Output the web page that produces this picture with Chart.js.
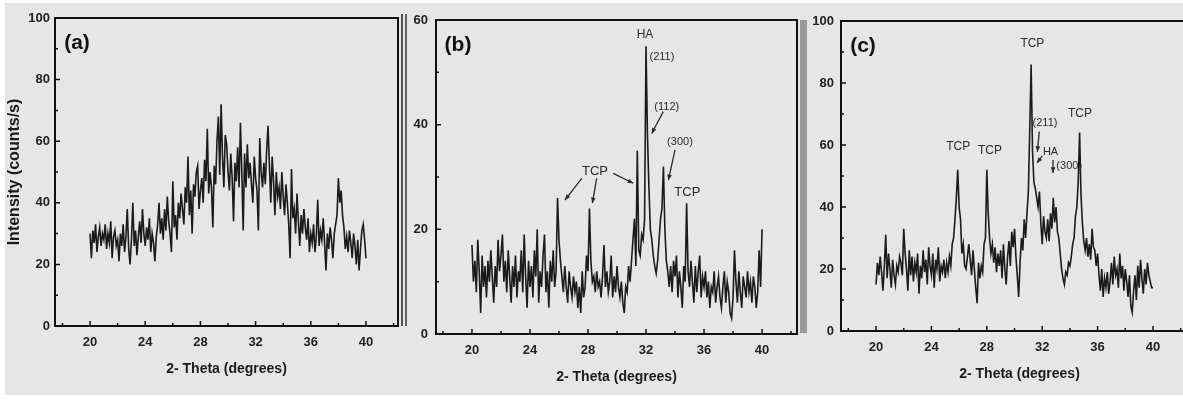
<!DOCTYPE html>
<html>
<head>
<meta charset="utf-8">
<script src="https://cdn.jsdelivr.net/npm/chart.js@4/dist/chart.umd.min.js"></script>
<style>
html, body { margin: 0; padding: 0; background: #fff; overflow: hidden; width: 1183px; height: 402px; }
#bg { position: absolute; left: 5px; top: 3px; width: 1178px; height: 392px; background: #e6e6e6; }
canvas { position: absolute; top: 0; }
.rule { position: absolute; }
</style>
</head>
<body>
<div id="bg"></div>
<div class="rule" style="left:401px;top:14px;width:2px;height:312px;background:#555"></div>
<div class="rule" style="left:405px;top:14px;width:2px;height:312px;background:#666"></div>
<div class="rule" style="left:800px;top:20px;width:7px;height:313px;background:#9a9a9a"></div>
<canvas id="chartA" width="400" height="402" style="left:0"></canvas>
<canvas id="chartB" width="400" height="402" style="left:400px"></canvas>
<canvas id="chartC" width="400" height="402" style="left:800px"></canvas>
<script>
// 2-theta sampling: 20.0 .. 40.0 every 0.1 degree
const thetaStart = 20;
const thetaStep = 0.1;

// (a) amorphous hump
const intensityA = [
  30, 22, 31, 27, 33, 24, 29, 32, 26, 30,
  28, 33, 25, 30, 27, 34, 22, 29, 31, 26,
  28, 21, 30, 26, 33, 24, 29, 38, 25, 20,
  28, 40, 26, 31, 23, 29, 34, 27, 38, 30,
  26, 32, 28, 35, 24, 30, 27, 21, 29, 33,
  40, 30, 35, 28, 38, 31, 42, 34, 30, 24,
  47, 32, 36, 28, 40, 35, 43, 38, 33, 45,
  40, 55, 36, 44, 30, 46, 42, 50, 52, 38,
  44, 48, 40, 54, 47, 64, 43, 50, 45, 32,
  52, 46, 60, 68, 49, 72, 55, 45, 62, 59,
  50, 44, 56, 48, 34, 53, 47, 58, 45, 66,
  50, 31, 56, 45, 59, 48, 53, 46, 40, 55,
  48, 44, 31, 61, 50, 45, 53, 46, 57, 65,
  52, 40, 55, 47, 36, 50, 42, 45, 38, 50,
  42, 36, 46, 40, 33, 22, 51, 35, 38, 30,
  43, 34, 26, 36, 30, 38, 32, 28, 35, 24,
  30, 27, 33, 24, 29, 41, 26, 31, 28, 35,
  27, 18, 30, 25, 32, 28, 22, 30, 33, 36,
  48, 40, 44, 36, 32, 25, 29, 24, 31, 27,
  22, 30, 26, 20, 28, 18, 25, 31, 33, 28,
  22
];

// (b) HA + TCP peaks
const intensityB = [
  17, 10, 14, 8, 18, 12, 4, 15, 9, 13,
  7, 14, 10, 16, 11, 6, 13, 9, 18, 12,
  15, 19, 10, 14, 8, 16, 11, 6, 13, 9,
  15, 7, 12, 10, 16, 8, 19, 11, 5, 14,
  9, 13, 7, 16, 11, 20, 6, 12, 9, 15,
  19, 8, 12, 5, 14, 10, 16, 9, 12, 26,
  18, 14, 11, 8, 13, 9, 6, 12, 9, 7,
  11, 8, 10, 5, 9, 4, 12, 7, 9, 15,
  12, 24, 14, 10, 11, 8, 12, 9, 10, 7,
  11, 17, 9, 12, 8, 10, 15, 7, 11, 8,
  13, 9, 7, 10, 6, 4, 9, 8, 13, 10,
  14, 18, 22, 13, 35, 16, 15, 19, 18, 22,
  55, 38, 28, 20, 18, 15, 13, 11.6, 14, 18,
  22, 24, 32, 20, 14, 12, 9, 13, 8, 14,
  11, 15, 7, 12, 9, 5, 13, 10, 25, 12,
  9, 14, 10, 6, 13, 8, 12, 15, 7, 11,
  9, 12, 7, 10, 5, 9, 8, 12, 6, 9,
  11, 7, 5, 9, 12, 6, 10, 8, 4, 3,
  7, 16, 10, 6, 12, 8, 5, 11, 9, 7,
  12, 8, 10, 6, 11, 9, 5, 8, 16, 9,
  20
];

// (c) TCP dominated
const intensityC = [
  15, 22, 18, 24, 19, 13, 21, 31, 17, 25,
  20, 14, 23, 18, 15, 21, 19, 24, 22, 18,
  33, 25, 20, 13, 26, 18, 24, 16, 22, 19,
  25, 12, 21, 17, 26, 19, 23, 15, 27, 21,
  18, 25, 14, 23, 20, 27, 16, 21, 19, 23,
  17, 22, 19, 24, 21, 28, 30, 36, 43, 52,
  40, 36, 25, 28, 21, 20, 24, 28, 23, 18,
  26, 20, 14, 9, 22, 17, 21, 19, 28, 30,
  52, 38, 30, 25, 28, 22, 27, 19, 25, 21,
  26, 17, 28, 20, 15, 24, 29, 21, 32, 27,
  33, 24, 18, 11, 22, 30, 26, 36, 30, 38,
  45, 65, 86, 58, 48, 46, 43, 40, 45, 35,
  28, 37, 32, 30, 36, 29, 38, 33, 43, 35,
  40, 32, 30, 25, 20, 17, 15, 19, 18, 22,
  21, 24, 28, 30, 37, 40, 48, 64, 44, 35,
  29, 26, 30, 24, 28, 23, 33, 27, 26, 21,
  25, 18, 13, 20, 11, 17, 14, 19, 12, 16,
  22, 15, 24, 18, 20, 14, 25, 17, 21, 13,
  20, 16, 11, 18, 8, 6, 13, 18, 10, 21,
  14, 23, 17, 12, 20, 15, 22, 18, 16, 14,
  14
];

const xTickLabels = [20, 24, 28, 32, 36, 40];
const xMinorTicks = [18, 20, 22, 24, 26, 28, 30, 32, 34, 36, 38, 40, 42];
const yTicks100 = [0, 20, 40, 60, 80, 100];
const yTicks60 = [0, 20, 40, 60];

// peak labels: text at (2-theta, intensity)
const notesB = [
  { text: 'HA', x: 31.93, y: 57.1, size: 12 },
  { text: '(211)', x: 33.1, y: 52.9, size: 11 },
  { text: '(112)', x: 33.43, y: 43.4, size: 11 },
  { text: '(300)', x: 34.34, y: 36.6, size: 11 },
  { text: 'TCP', x: 28.48, y: 31.0, size: 13 },
  { text: 'TCP', x: 34.85, y: 27.1, size: 13 }
];
const arrowsB = [
  [33.19, 42.5, 32.39, 38.3],
  [34.0, 35.2, 33.54, 29.4],
  [27.57, 29.75, 26.41, 25.6],
  [28.6, 29.75, 28.3, 25.0],
  [29.74, 30.7, 31.12, 28.8]
];
const notesC = [
  { text: 'TCP', x: 31.29, y: 92.8, size: 12 },
  { text: '(211)', x: 32.2, y: 67, size: 11 },
  { text: 'HA', x: 32.6, y: 57.8, size: 11 },
  { text: '(300)', x: 33.95, y: 53.3, size: 11 },
  { text: 'TCP', x: 34.73, y: 70.2, size: 12 },
  { text: 'TCP', x: 25.94, y: 59.5, size: 12 },
  { text: 'TCP', x: 28.23, y: 58.2, size: 12 }
];
const arrowsC = [
  [31.79, 64.3, 31.65, 57.8],
  [32.0, 56.5, 31.62, 54.2],
  [32.78, 55.2, 32.78, 51.0]
];

function toPoints(values) {
  return values.map((v, i) => ({ x: thetaStart + i * thetaStep, y: v }));
}

// box round the plot, inward ticks, panel letter, peak notes
const xrdDecor = {
  id: 'xrdDecor',
  afterDatasetsDraw(chart, args, opts) {
    const { ctx, chartArea: a } = chart;
    const xs = chart.scales.x, ys = chart.scales.y;
    ctx.save();
    ctx.strokeStyle = '#111';
    ctx.lineWidth = 2;
    ctx.strokeRect(a.left, a.top, a.right - a.left, a.bottom - a.top);

    ctx.lineWidth = 1.5;
    ctx.beginPath();
    xMinorTicks.forEach(v => {
      const px = xs.getPixelForValue(v);
      const len = xTickLabels.includes(v) ? 5 : 3;
      ctx.moveTo(px, a.bottom);
      ctx.lineTo(px, a.bottom - len);
    });
    for (let v = 10; v < ys.max; v += 10) {
      const py = ys.getPixelForValue(v);
      const len = v % 20 === 0 ? 5 : 3;
      ctx.moveTo(a.left, py);
      ctx.lineTo(a.left + len, py);
    }
    ctx.stroke();

    ctx.fillStyle = '#111';
    ctx.font = 'bold 21px "Liberation Sans", Arial, sans-serif';
    ctx.textAlign = 'center';
    ctx.textBaseline = 'middle';
    ctx.fillText(opts.panel, a.left + 22, a.top + 25);

    ctx.fillStyle = '#2a2a2a';
    (opts.notes || []).forEach(n => {
      ctx.font = n.size + 'px "Liberation Sans", Arial, sans-serif';
      ctx.fillText(n.text, xs.getPixelForValue(n.x), ys.getPixelForValue(n.y));
    });
    ctx.strokeStyle = '#2a2a2a';
    ctx.lineWidth = 1.3;
    (opts.arrows || []).forEach(([x0, y0, x1, y1]) => {
      const p0 = [xs.getPixelForValue(x0), ys.getPixelForValue(y0)];
      const p1 = [xs.getPixelForValue(x1), ys.getPixelForValue(y1)];
      ctx.beginPath();
      ctx.moveTo(p0[0], p0[1]);
      ctx.lineTo(p1[0], p1[1]);
      ctx.stroke();
      const ang = Math.atan2(p1[1] - p0[1], p1[0] - p0[0]);
      ctx.beginPath();
      ctx.moveTo(p1[0], p1[1]);
      ctx.lineTo(p1[0] - 6 * Math.cos(ang - 0.4), p1[1] - 6 * Math.sin(ang - 0.4));
      ctx.lineTo(p1[0] - 6 * Math.cos(ang + 0.4), p1[1] - 6 * Math.sin(ang + 0.4));
      ctx.closePath();
      ctx.fill();
    });
    ctx.restore();
  }
};

const tickFont = { family: '"Liberation Sans", Arial, sans-serif', size: 13, weight: 'bold' };
const titleFont = { family: '"Liberation Sans", Arial, sans-serif', size: 14, weight: 'bold' };

function createXrdChart(target, values, o) {
  return new Chart(document.getElementById(target), {
    type: 'line',
    data: {
      datasets: [{
        data: toPoints(values),
        borderColor: '#1b1b1b',
        borderWidth: 1.6,
        pointRadius: 0,
        tension: 0
      }]
    },
    options: {
      responsive: false,
      animation: false,
      layout: { padding: { left: 0, top: o.top, right: o.right, bottom: 0 } },
      plugins: {
        legend: { display: false },
        tooltip: { enabled: false },
        xrdDecor: { panel: o.panel, notes: o.notes, arrows: o.arrows }
      },
      scales: {
        x: {
          type: 'linear',
          min: o.xMin,
          max: o.xMax,
          afterBuildTicks: s => { s.ticks = xTickLabels.map(v => ({ value: v })); },
          afterFit: s => { s.height = o.xHeight; },
          grid: { display: false, drawTicks: false },
          border: { display: false },
          ticks: { font: tickFont, color: '#222', padding: 9, maxRotation: 0 },
          title: { display: true, text: '2- Theta (degrees)', font: titleFont, color: '#1a1a1a',
                   padding: { top: 0, bottom: o.titlePad } }
        },
        y: {
          min: 0,
          max: o.yMax,
          afterBuildTicks: s => { s.ticks = o.yTicks.map(v => ({ value: v })); },
          afterFit: s => { s.width = o.yWidth; },
          grid: { display: false, drawTicks: false },
          border: { display: false },
          ticks: { font: tickFont, color: '#222', padding: o.yPad },
          title: { display: !!o.yTitle, text: o.yTitle || '', color: '#1a1a1a',
                   font: { family: '"Liberation Sans", Arial, sans-serif', size: 16, weight: 'bold' },
                   padding: { top: 5, bottom: 0 } }
        }
      }
    },
    plugins: [xrdDecor]
  });
}

createXrdChart('chartA', intensityA, {
  panel: '(a)', xMin: 17.46, xMax: 42.32, yMax: 100, yTicks: yTicks100,
  top: 18, right: 2, xHeight: 76, yWidth: 55, yPad: 5, titlePad: 24,
  yTitle: 'Intensity (counts/s)'
});
createXrdChart('chartB', intensityB, {
  panel: '(b)', xMin: 17.52, xMax: 42.41, yMax: 60, yTicks: yTicks60,
  top: 20, right: 3, xHeight: 68, yWidth: 36, yPad: 8, titlePad: 16,
  notes: notesB, arrows: arrowsB
});
createXrdChart('chartC', intensityC, {
  panel: '(c)', xMin: 17.47, xMax: 43.25, yMax: 100, yTicks: yTicks100,
  top: 21, right: 2, xHeight: 71, yWidth: 41, yPad: 7, titlePad: 19,
  notes: notesC, arrows: arrowsC
});
</script>
</body>
</html>
